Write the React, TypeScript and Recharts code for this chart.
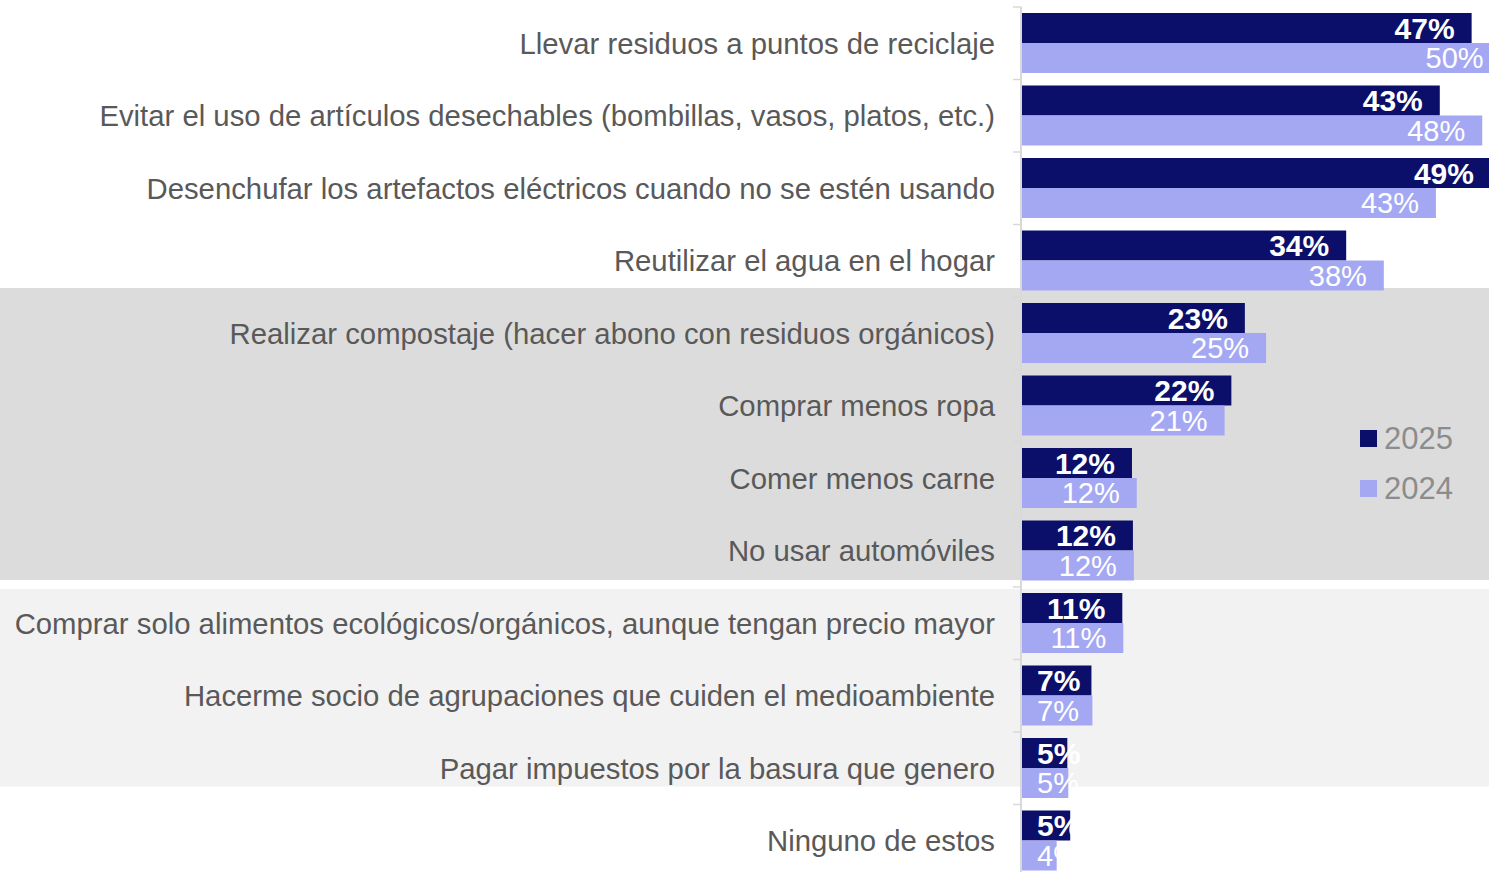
import React from "react";
import {
  BarChart,
  Bar,
  XAxis,
  YAxis,
  LabelList,
  Legend,
  ReferenceArea,
} from "recharts";

const categories = [
  "Llevar residuos a puntos de reciclaje",
  "Evitar el uso de artículos desechables (bombillas, vasos, platos, etc.)",
  "Desenchufar los artefactos eléctricos cuando no se estén usando",
  "Reutilizar el agua en el hogar",
  "Realizar compostaje (hacer abono con residuos orgánicos)",
  "Comprar menos ropa",
  "Comer menos carne",
  "No usar automóviles",
  "Comprar solo alimentos ecológicos/orgánicos, aunque tengan precio mayor",
  "Hacerme socio de agrupaciones que cuiden el medioambiente",
  "Pagar impuestos por la basura que genero",
  "Ninguno de estos",
];

const values2025 = [46.7, 43.4, 48.7, 33.7, 23.2, 21.8, 11.5, 11.6, 10.5, 7.3, 4.8, 5.1];
const values2024 = [49.7, 47.8, 43.0, 37.6, 25.4, 21.1, 12.0, 11.7, 10.6, 7.4, 4.9, 3.7];

const seriesNames = ["2025", "2024"];

const data = categories.map((name, i) => ({
  name,
  y2025: values2025[i],
  y2024: values2024[i],
}));

const NAVY = "#0b0f6a";
const LILAC = "#a4a8f3";
const FONT = "'Liberation Sans', Arial, sans-serif";

const CHART_W = 1489;
const CHART_H = 880;
const MARGIN = { top: 7, right: 0, bottom: 3, left: 0 };
const AXIS_W = 1021;
const BAND = (CHART_H - MARGIN.top - MARGIN.bottom) / categories.length;

function CategoryTick(props: any) {
  const { x, y, payload } = props;
  const top = y - BAND / 2;
  return (
    <g>
      <line x1={x + 18} x2={x + 26} y1={top} y2={top} stroke="#d9d9d9" strokeWidth={1.5} />
      <text
        x={x}
        y={y}
        dy="0.35em"
        textAnchor="end"
        fill="#595959"
        fontSize={29.3}
        fontFamily={FONT}
      >
        {payload.value}
      </text>
    </g>
  );
}

function makeLabel(bold: boolean) {
  const fontSize = bold ? 30 : 29;
  return (props: any) => {
    const { x, y, width, height, value } = props;
    const text = `${Math.round(value)}%`;
    const digits = text.length - 1;
    const tw = fontSize * (digits * 0.556 + 0.889);
    const fitsEnd = width - 17 - tw >= 16;
    return (
      <text
        x={fitsEnd ? x + width - 17 : x + 16}
        y={y + height / 2}
        dy="0.35em"
        textAnchor={fitsEnd ? "end" : "start"}
        fill="#ffffff"
        fontSize={fontSize}
        fontWeight={bold ? 700 : 400}
        fontFamily={FONT}
      >
        {text}
      </text>
    );
  };
}

function LegendBox() {
  const colors = [NAVY, LILAC];
  return (
    <div style={{ fontFamily: FONT }}>
      {seriesNames.map((s, i) => (
        <div key={s} style={{ display: "flex", alignItems: "center", height: 50 }}>
          <span
            style={{
              display: "inline-block",
              width: 17,
              height: 17,
              background: colors[i],
              marginRight: 7,
            }}
          />
          <span style={{ fontSize: 31, lineHeight: 1, color: "#8c8c8c" }}>{s}</span>
        </div>
      ))}
    </div>
  );
}

export default function App() {
  return (
    <div
      style={{
        position: "absolute",
        left: 0,
        top: 0,
        width: CHART_W,
        height: 872,
        overflow: "hidden",
        background: "#ffffff",
        fontFamily: FONT,
      }}
    >
      <BarChart
        width={CHART_W}
        height={CHART_H}
        data={data}
        layout="vertical"
        margin={MARGIN}
        barGap={0}
      >
        <ReferenceArea
          y1={categories[4]}
          y2={categories[7]}
          ifOverflow="visible"
          shape={(p: any) => (
            <rect x={0} y={p.y - 9} width={CHART_W} height={p.height + 2} fill="#dcdcdc" />
          )}
        />
        <ReferenceArea
          y1={categories[8]}
          y2={categories[10]}
          ifOverflow="visible"
          shape={(p: any) => (
            <rect x={0} y={p.y + 2} width={CHART_W} height={p.height - 20} fill="#f2f2f2" />
          )}
        />
        <XAxis type="number" hide domain={[0, 48.5]} allowDataOverflow />
        <YAxis
          type="category"
          dataKey="name"
          width={AXIS_W}
          interval={0}
          tickSize={8}
          tickMargin={18}
          tickLine={false}
          axisLine={{ stroke: "#d9d9d9", strokeWidth: 2 }}
          tick={<CategoryTick />}
        />
        <Legend
          layout="vertical"
          align="center"
          verticalAlign="middle"
          content={<LegendBox />}
          wrapperStyle={{ left: 1360, top: 413, width: 120, bottom: "auto", right: "auto" }}
        />
        <Bar dataKey="y2025" name="2025" fill={NAVY} barSize={30} isAnimationActive={false}>
          <LabelList dataKey="y2025" content={makeLabel(true)} />
        </Bar>
        <Bar dataKey="y2024" name="2024" fill={LILAC} barSize={30} isAnimationActive={false}>
          <LabelList dataKey="y2024" content={makeLabel(false)} />
        </Bar>
      </BarChart>
    </div>
  );
}
